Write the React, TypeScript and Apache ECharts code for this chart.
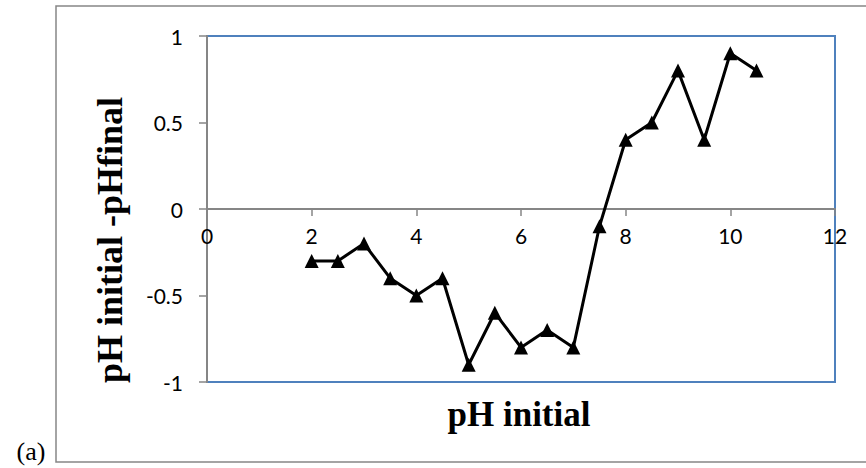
import React, { useEffect, useRef } from "react";
import * as echarts from "echarts";

const phInitial = [2, 2.5, 3, 3.5, 4, 4.5, 5, 5.5, 6, 6.5, 7, 7.5, 8, 8.5, 9, 9.5, 10, 10.5];
const phDiff = [-0.3, -0.3, -0.2, -0.4, -0.5, -0.4, -0.9, -0.6, -0.8, -0.7, -0.8, -0.1, 0.4, 0.5, 0.8, 0.4, 0.9, 0.8];
const xTitle = "pH initial";
const yTitle = "pH initial -pHfinal";
const panelLabel = "(a)";

export default function App() {
  const ref = useRef<HTMLDivElement>(null);
  useEffect(() => {
    if (!ref.current) return;
    const chart = echarts.init(ref.current, undefined, { renderer: "svg" });
    const serif = "'Liberation Serif', 'Times New Roman', serif";
    chart.setOption({
      animation: false,
      backgroundColor: "#ffffff",
      grid: {
        left: 207,
        top: 36,
        width: 628,
        height: 346,
        show: true,
        borderColor: "#4F81BD",
        borderWidth: 2,
        backgroundColor: "transparent",
      },
      xAxis: {
        type: "value",
        min: 0,
        max: 12,
        interval: 2,
        position: "bottom",
        offset: -173,
        axisLine: { onZero: false, lineStyle: { color: "#868686", width: 2 } },
        axisTick: { show: true, length: 7, lineStyle: { color: "#868686", width: 1.5 } },
        axisLabel: { color: "#000", fontSize: 21, fontFamily: "Lato", margin: 16 },
        splitLine: { show: false },
      },
      yAxis: {
        type: "value",
        min: -1,
        max: 1,
        interval: 0.5,
        axisLine: { show: true, lineStyle: { color: "#868686", width: 2 } },
        axisTick: { show: true, length: 8, lineStyle: { color: "#868686", width: 1.5 } },
        axisLabel: { color: "#000", fontSize: 21, fontFamily: "Lato", margin: 24 },
        splitLine: { show: false },
      },
      graphic: [
        {
          type: "rect",
          shape: { x: 56, y: 6, width: 820, height: 456 },
          style: { fill: "none", stroke: "#868686", lineWidth: 1.5 },
          silent: true,
          z: -1,
        },
        {
          type: "text",
          x: 519,
          y: 414,
          style: {
            text: xTitle,
            font: `bold 35px ${serif}`,
            fill: "#000",
            align: "center",
            verticalAlign: "middle",
          },
        },
        {
          type: "text",
          x: 110,
          y: 240,
          rotation: Math.PI / 2,
          style: {
            text: yTitle,
            font: `bold 36px ${serif}`,
            fill: "#000",
            align: "center",
            verticalAlign: "middle",
          },
        },
        {
          type: "text",
          x: 31,
          y: 451,
          style: {
            text: panelLabel,
            font: `26px ${serif}`,
            fill: "#000",
            align: "center",
            verticalAlign: "middle",
          },
        },
      ],
      series: [
        {
          type: "line",
          data: phInitial.map((x, i) => [x, phDiff[i]]),
          symbol: "triangle",
          symbolSize: 14,
          itemStyle: { color: "#000" },
          lineStyle: { color: "#000", width: 3 },
          z: 5,
        },
      ],
    });
    return () => chart.dispose();
  }, []);
  return (
    <div
      ref={ref}
      style={{ position: "fixed", left: 0, top: 0, width: 866, height: 468 }}
    />
  );
}
